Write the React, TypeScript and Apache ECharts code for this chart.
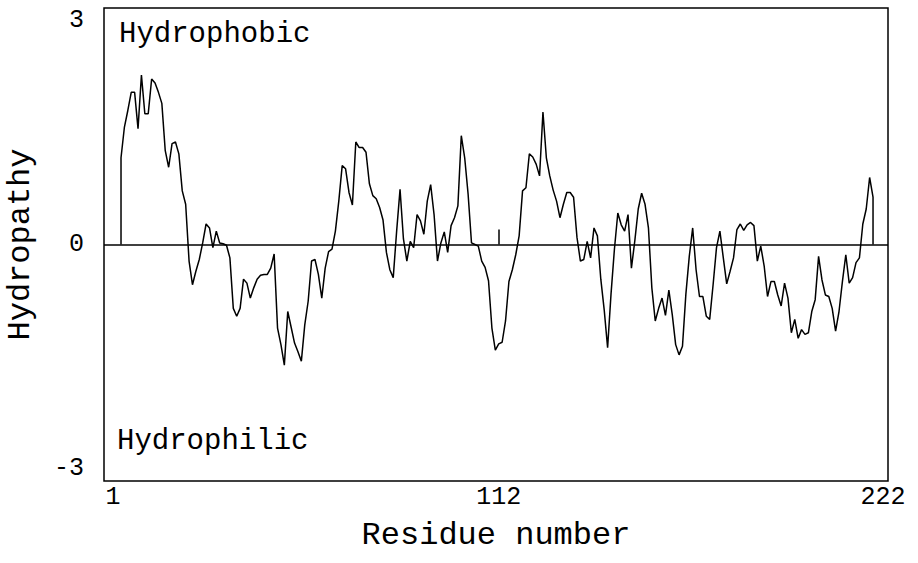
import React, { useEffect, useRef } from "react";
import * as echarts from "echarts";

// Hydropathy value per residue (residues 1..222)
const hydropathy: number[] = [
  1.10, 1.49, 1.70, 1.93, 1.93, 1.47, 2.15, 1.66, 1.66, 2.10,
  2.05, 1.93, 1.79, 1.19, 0.98, 1.28, 1.30, 1.15, 0.68, 0.51,
  -0.21, -0.51, -0.34, -0.19, 0.02, 0.26, 0.21, -0.04, 0.17, 0.02,
  0.01, -0.01, -0.17, -0.81, -0.91, -0.81, -0.44, -0.49, -0.68, -0.55,
  -0.44, -0.39, -0.38, -0.38, -0.30, -0.12, -1.06, -1.27, -1.53, -0.85,
  -1.05, -1.25, -1.36, -1.48, -1.02, -0.72, -0.21, -0.19, -0.38, -0.68,
  -0.30, -0.09, -0.06, 0.17, 0.55, 1.00, 0.96, 0.66, 0.50, 1.30,
  1.23, 1.23, 1.17, 0.77, 0.62, 0.58, 0.47, 0.31, -0.10, -0.32,
  -0.42, 0.17, 0.70, 0.07, -0.21, 0.04, -0.04, 0.38, 0.30, 0.13,
  0.55, 0.76, 0.38, -0.21, 0.02, 0.16, -0.10, 0.24, 0.34, 0.49,
  1.38, 1.10, 0.64, 0.02, 0.00, -0.02, -0.21, -0.29, -0.46, -1.06,
  -1.34, -1.26, -1.24, -0.97, -0.47, -0.32, -0.13, 0.11, 0.68, 0.72,
  1.15, 1.11, 1.02, 0.87, 1.68, 1.10, 0.87, 0.69, 0.55, 0.34,
  0.51, 0.66, 0.66, 0.60, 0.09, -0.21, -0.19, 0.04, -0.17, 0.21,
  0.11, -0.44, -0.83, -1.31, -0.63, -0.06, 0.40, 0.25, 0.17, 0.38,
  -0.30, 0.05, 0.45, 0.65, 0.51, 0.21, -0.55, -0.97, -0.81, -0.68,
  -0.90, -0.58, -0.89, -1.27, -1.40, -1.29, -0.63, -0.15, 0.21, -0.32,
  -0.66, -0.66, -0.91, -0.95, -0.51, -0.04, 0.17, -0.17, -0.50, -0.34,
  -0.17, 0.19, 0.26, 0.18, 0.25, 0.28, 0.24, -0.21, -0.02, -0.27,
  -0.66, -0.47, -0.47, -0.64, -0.78, -0.49, -0.68, -1.12, -0.95, -1.19,
  -1.08, -1.14, -1.12, -0.85, -0.70, -0.15, -0.45, -0.64, -0.66, -0.81,
  -1.10, -0.85, -0.47, -0.13, -0.49, -0.42, -0.23, -0.17, 0.26, 0.45,
  0.85, 0.60,
];

const firstResidue = 1;
const lastResidue = 222;
const xTickLabels: number[] = [1, 112, 222];
const xTickMarks: number[] = [112];
const yTickLabels: number[] = [-3, 0, 3];

const FONT = "Liberation Mono, Courier New, monospace";

export default function App() {
  const ref = useRef<HTMLDivElement>(null);

  useEffect(() => {
    if (!ref.current) return;
    const chart = echarts.init(ref.current, undefined, { renderer: "svg" });

    const lineData: [number, number][] = [
      [firstResidue, 0],
      ...hydropathy.map((v, i) => [firstResidue + i, v] as [number, number]),
      [lastResidue, 0],
    ];

    chart.setOption({
      animation: false,
      backgroundColor: "#ffffff",
      textStyle: { fontFamily: FONT, color: "#000" },
      grid: {
        left: 104,
        top: 8,
        width: 784,
        height: 473,
        containLabel: false,
        outerBoundsMode: "none",
        show: true,
        borderColor: "#000",
        borderWidth: 1.5,
        backgroundColor: "transparent",
      },
      xAxis: {
        type: "value",
        min: -4,
        max: 226.4,
        name: "Residue number",
        nameLocation: "middle",
        nameGap: 38,
        nameTextStyle: { fontFamily: FONT, fontSize: 32, color: "#000" },
        axisLine: { show: false },
        splitLine: { show: false },
        axisTick: {
          show: true,
          inside: true,
          length: 15,
          customValues: xTickMarks,
          lineStyle: { color: "#000", width: 1.5 },
        },
        axisLabel: {
          show: true,
          customValues: xTickLabels,
          margin: 4,
          fontFamily: FONT,
          fontSize: 25,
          color: "#000",
          formatter: (v: number) => {
            if (v === firstResidue) return "{a|" + v + "}";
            if (v === lastResidue) return "{b|" + v + "}";
            return String(v);
          },
          rich: {
            a: { fontFamily: FONT, fontSize: 25, color: "#000", padding: [0, 16, 0, 0] },
            b: { fontFamily: FONT, fontSize: 25, color: "#000", padding: [0, 0, 0, 20] },
          },
        },
      },
      yAxis: {
        type: "value",
        min: -3,
        max: 3,
        interval: 3,
        name: "Hydropathy",
        nameLocation: "middle",
        nameGap: 68,
        nameRotate: 90,
        nameTextStyle: { fontFamily: FONT, fontSize: 32, color: "#000" },
        axisLine: { show: false },
        axisTick: { show: false },
        splitLine: { show: false },
        axisLabel: {
          show: true,
          customValues: yTickLabels,
          margin: 20,
          fontFamily: FONT,
          fontSize: 25,
          color: "#000",
          verticalAlignMaxLabel: "top",
          verticalAlignMinLabel: "bottom",
        },
      },
      graphic: [
        {
          type: "text",
          left: 119,
          top: 20,
          style: { text: "Hydrophobic", font: `29px ${FONT}`, fill: "#000" },
        },
        {
          type: "text",
          left: 117,
          top: 427,
          style: { text: "Hydrophilic", font: `29px ${FONT}`, fill: "#000" },
        },
      ],
      series: [
        {
          type: "line",
          data: lineData,
          showSymbol: false,
          symbol: "none",
          lineStyle: { color: "#000", width: 1.5 },
          silent: true,
          markLine: {
            silent: true,
            symbol: "none",
            label: { show: false },
            lineStyle: { color: "#000", width: 1.5, type: "solid" },
            data: [{ yAxis: 0 }],
          },
        },
      ],
    });

    return () => chart.dispose();
  }, []);

  return (
    <div
      ref={ref}
      style={{ position: "fixed", left: 0, top: 0, width: 918, height: 563 }}
    />
  );
}
